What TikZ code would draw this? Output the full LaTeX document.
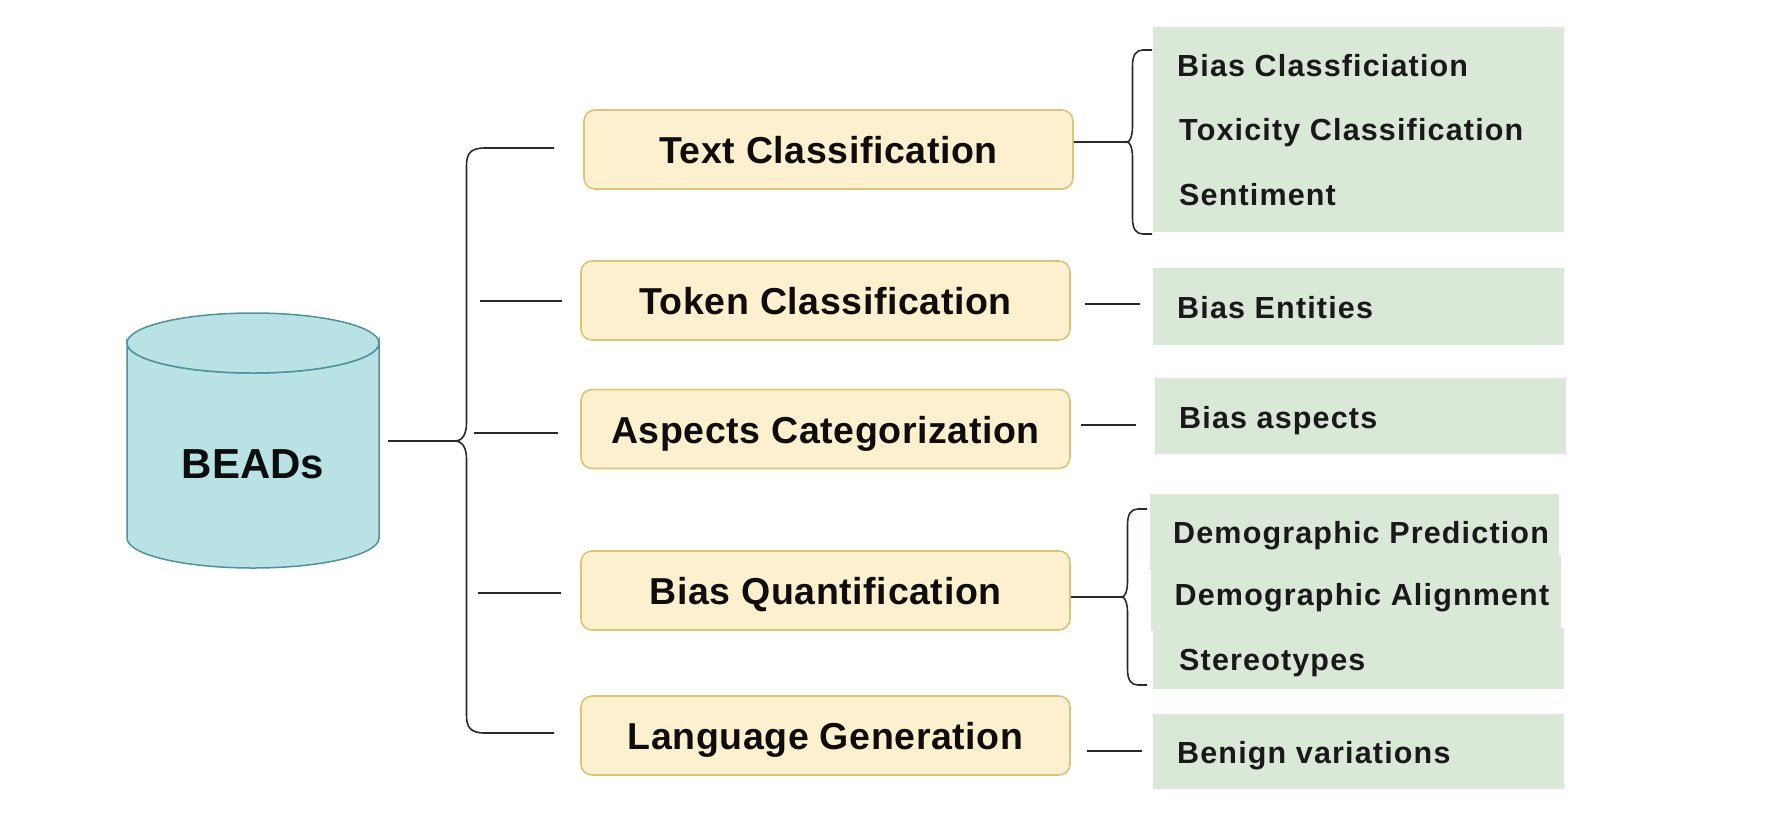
\documentclass[tikz,border=0pt]{standalone}
\usepackage{fontspec}
\setmainfont{Liberation Sans}
\newfontfamily\taskfont[LetterSpace=1.6]{Liberation Sans}
\newfontfamily\subfont[LetterSpace=3.8]{Liberation Sans}
\usetikzlibrary{positioning}
\definecolor{cylfill}{HTML}{B9E2E5}
\definecolor{cyldraw}{HTML}{4F929C}
\definecolor{taskfill}{HTML}{FCF0CF}
\definecolor{taskdraw}{HTML}{DDC377}
\definecolor{subfill}{HTML}{DAE8D8}
\definecolor{linkcol}{HTML}{2A2A2A}
\tikzset{
    cylpart/.style={draw=cyldraw, fill=cylfill, line width=1.5},
    taskbox/.style={draw=taskdraw, fill=taskfill, line width=1.6, rounded corners=11,
        minimum width=489, minimum height=79, inner sep=0, text height=34, text depth=6,
        font=\fontsize{37.5}{40}\selectfont\taskfont\bfseries, text=black!95},
    subbox/.style={fill=subfill, inner sep=0, anchor=north west},
    subtext/.style={anchor=base west, inner sep=0, font=\fontsize{30.5}{33}\selectfont\subfont\bfseries, text=black!90},
    link/.style={draw=linkcol, line width=1.6}
}
\begin{document}
\begin{tikzpicture}[x=1pt,y=1pt,yscale=-1,xscale=1]
    \useasboundingbox (0,0) rectangle (1782,836);

    % Database
    \draw [cylpart] (127,343) -- (127,538) arc [start angle=180, end angle=0, x radius=126, y radius=30] -- (379,343) arc [start angle=0, end angle=180, x radius=126, y radius=30] -- cycle;
    \draw [cylpart] (253,343) ellipse [x radius=126, y radius=30];
    \node [anchor=base, inner sep=0, font=\fontsize{42}{44}\selectfont\bfseries, text=black!95] (beads) at (253,478) {BEADs};

    % Task boxes
    \node [taskbox, minimum width=489] (textclass) at (828.5,149.5) {Text Classification};
    \node [taskbox] (tokenclass) at (825.5,300.5) {Token Classification};
    \node [taskbox] (aspectcat) at (825.5,429) {Aspects Categorization};
    \node [taskbox] (biasquant) at (825.5,590.5) {Bias Quantification};
    \node [taskbox] (langgen) at (825.5,735.5) {Language Generation};

    % Sub boxes
    \node [subbox, minimum width=411, minimum height=80] (subbias) at (1153,27) {};
    \node [subbox, minimum width=411, minimum height=80] (subtox) at (1153,90) {};
    \node [subbox, minimum width=411, minimum height=77] (subsent) at (1153,155) {};
    \node [subbox, minimum width=411, minimum height=77] (subent) at (1153,268) {};
    \node [subbox, minimum width=411, minimum height=76] (subasp) at (1155,378) {};
    \node [subbox, minimum width=409, minimum height=76] (subpred) at (1150,494) {};
    \node [subbox, minimum width=410, minimum height=76] (subalign) at (1151,555) {};
    \node [subbox, minimum width=411, minimum height=61] (substereo) at (1153,628) {};
    \node [subbox, minimum width=411, minimum height=75] (subbenign) at (1153,714) {};

    % Sub labels
    \node [subtext] (lbias) at (1177,76.5) {Bias Classficiation};
    \node [subtext] (ltox) at (1179,140.5) {Toxicity Classification};
    \node [subtext] (lsent) at (1179,205) {Sentiment};
    \node [subtext] (lent) at (1177,318) {Bias Entities};
    \node [subtext] (lasp) at (1179,428) {Bias aspects};
    \node [subtext] (lpred) at (1173,543) {Demographic Prediction};
    \node [subtext] (lalign) at (1174.5,605) {Demographic Alignment};
    \node [subtext] (lstereo) at (1179,670) {Stereotypes};
    \node [subtext] (lbenign) at (1177,763) {Benign variations};

    % Free ends
    \coordinate (stubmain) at (388,441);
    \coordinate (tipmain) at (455,441);
    \coordinate (topmain) at (554,148);
    \coordinate (botmain) at (554,733);
    \coordinate (tiptext) at (1127,142);
    \coordinate (toptext) at (1152,50);
    \coordinate (bottext) at (1152,234);
    \coordinate (tipquant) at (1122,597);
    \coordinate (topquant) at (1147,509);
    \coordinate (botquant) at (1147,685);
    \coordinate (tokL) at (480,301);
    \coordinate (tokR) at (562,301);
    \coordinate (aspL) at (474,433);
    \coordinate (aspR) at (558,433);
    \coordinate (quaL) at (478,593);
    \coordinate (quaR) at (561,593);
    \coordinate (tokA) at (1085,304);
    \coordinate (tokB) at (1140,304);
    \coordinate (aspA) at (1081,425);
    \coordinate (aspB) at (1136,425);
    \coordinate (genA) at (1087,751);
    \coordinate (genB) at (1142,751);

    % Connection
    \draw [link] (stubmain) -- (tipmain) .. controls (463,441) and (466.5,433) .. (466.5,423) -- (466.5,166) .. controls (466.5,154) and (470,148) .. (485,148) -- (topmain);
    \draw [link] (tipmain) .. controls (463,441) and (466.5,449) .. (466.5,459) -- (466.5,715) .. controls (466.5,727) and (470,733) .. (485,733) -- (botmain);

    % Connection
    \draw [link] (tokL) -- (tokR);
    \draw [link] (aspL) -- (aspR);
    \draw [link] (quaL) -- (quaR);

    % Connection
    \draw [link] (textclass.east |- tiptext) -- (tiptext) .. controls (1130,142) and (1132.5,136) .. (1132.5,126) -- (1132.5,66) .. controls (1132.5,55) and (1136,50) .. (1143,50) -- (toptext);
    \draw [link] (tiptext) .. controls (1130,142) and (1132.5,148) .. (1132.5,158) -- (1132.5,218) .. controls (1132.5,229) and (1136,234) .. (1143,234) -- (bottext);

    % Connection
    \draw [link] (biasquant.east |- tipquant) -- (tipquant) .. controls (1125,597) and (1127.5,591) .. (1127.5,581) -- (1127.5,525) .. controls (1127.5,514) and (1131,509) .. (1138,509) -- (topquant);
    \draw [link] (tipquant) .. controls (1125,597) and (1127.5,603) .. (1127.5,613) -- (1127.5,669) .. controls (1127.5,680) and (1131,685) .. (1138,685) -- (botquant);

    % Connection
    \draw [link] (tokA) -- (tokB);
    \draw [link] (aspA) -- (aspB);
    \draw [link] (genA) -- (genB);

\end{tikzpicture}
\end{document}
